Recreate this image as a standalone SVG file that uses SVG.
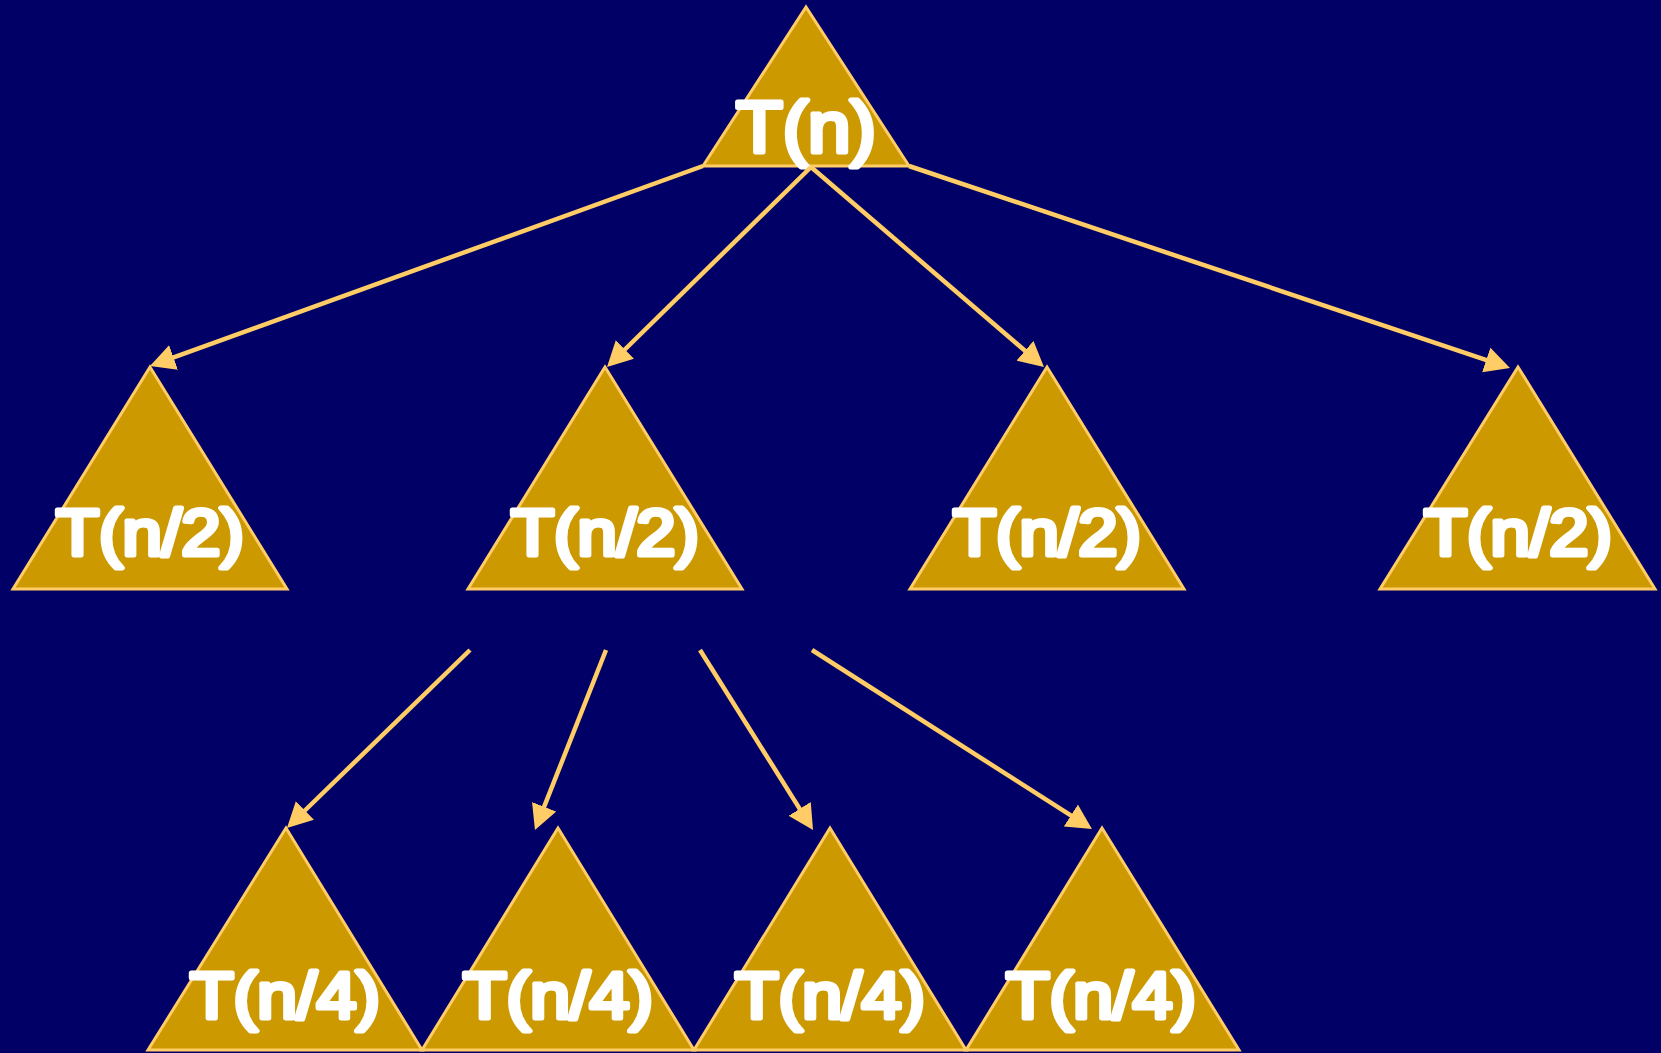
<svg xmlns="http://www.w3.org/2000/svg" width="1661" height="1053" viewBox="0 0 1661 1053">
<style>
.tri{fill:#CC9900;stroke:#FFCC66;stroke-width:3;stroke-linejoin:miter}
.edge{fill:none;stroke:#FFCC66;stroke-width:4.5}
.lbl{font-family:"Liberation Sans",Arial,sans-serif;font-weight:normal;fill:#FFFFFF;stroke:#FFFFFF;stroke-width:5;stroke-linejoin:round;stroke-linecap:round;text-anchor:middle}
.l2{font-size:64px}
.l1{font-size:72px}
</style>
<defs>
<marker id="ah" markerUnits="userSpaceOnUse" markerWidth="26" markerHeight="26" refX="5" refY="13" orient="auto">
<path d="M0,0 L25,13 L0,26 z" fill="#FFCC66"/>
</marker>
</defs>
<rect x="0" y="0" width="1661" height="1053" fill="#000066"/>
<g id="n-root"><polygon class="tri" points="806,7 703,166 909,166"/><text class="lbl l1" x="806" y="152" textLength="140" lengthAdjust="spacingAndGlyphs">T(n)</text></g>
<g id="n-a"><polygon class="tri" points="150,367 13,589 287,589"/><text class="lbl l2" x="150" y="555" textLength="188" lengthAdjust="spacingAndGlyphs">T(n/2)</text></g>
<g id="n-b"><polygon class="tri" points="605,367 468,589 742,589"/><text class="lbl l2" x="605" y="555" textLength="188" lengthAdjust="spacingAndGlyphs">T(n/2)</text></g>
<g id="n-c"><polygon class="tri" points="1047,367 910,589 1184,589"/><text class="lbl l2" x="1047" y="555" textLength="188" lengthAdjust="spacingAndGlyphs">T(n/2)</text></g>
<g id="n-d"><polygon class="tri" points="1518,367 1380,589 1655,589"/><text class="lbl l2" x="1518" y="555" textLength="188" lengthAdjust="spacingAndGlyphs">T(n/2)</text></g>
<g id="n-e"><polygon class="tri" points="286,828 148,1050 422,1050"/><text class="lbl l2" x="285" y="1018" textLength="190" lengthAdjust="spacingAndGlyphs">T(n/4)</text></g>
<g id="n-f"><polygon class="tri" points="558,828 422,1050 694,1050"/><text class="lbl l2" x="558" y="1018" textLength="190" lengthAdjust="spacingAndGlyphs">T(n/4)</text></g>
<g id="n-g"><polygon class="tri" points="830,828 694,1050 966,1050"/><text class="lbl l2" x="830" y="1018" textLength="190" lengthAdjust="spacingAndGlyphs">T(n/4)</text></g>
<g id="n-h"><polygon class="tri" points="1102,828 966,1050 1239,1050"/><text class="lbl l2" x="1101" y="1018" textLength="190" lengthAdjust="spacingAndGlyphs">T(n/4)</text></g>
<g id="connectors">
<path class="edge" d="M703,166 L168.8,359.2" marker-end="url(#ah)"/>
<path class="edge" d="M811,167 L621.3,353" marker-end="url(#ah)"/>
<path class="edge" d="M811,167 L1028.8,354" marker-end="url(#ah)"/>
<path class="edge" d="M909,166 L1491,361.6" marker-end="url(#ah)"/>
<path class="edge" d="M470,650 L301.3,814" marker-end="url(#ah)"/>
<path class="edge" d="M606,650 L542.3,811.4" marker-end="url(#ah)"/>
<path class="edge" d="M700,650 L802.4,813.1" marker-end="url(#ah)"/>
<path class="edge" d="M812,650 L1075.1,818.2" marker-end="url(#ah)"/>
</g>
</svg>
